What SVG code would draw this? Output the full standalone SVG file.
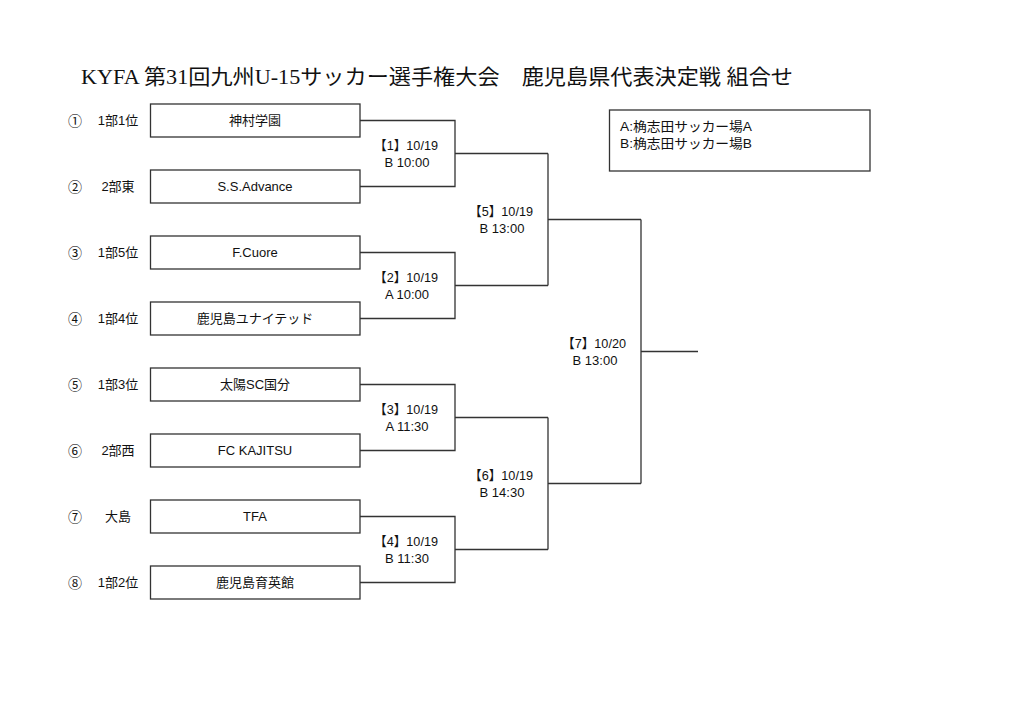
<svg xmlns="http://www.w3.org/2000/svg" width="1024" height="724" viewBox="0 0 1024 724">
<style>
.bg{fill:#fff}
.box{fill:#fff;stroke:#333;stroke-width:1.3}
.ln{fill:none;stroke:#333;stroke-width:1.3}
.t{font-family:"Liberation Sans","Noto Sans CJK JP",sans-serif;font-size:13px;fill:#111;text-anchor:middle}
.c{font-family:"Noto Sans CJK JP",sans-serif;font-size:14px;fill:#111;text-anchor:middle}
.l{font-family:"Liberation Sans","Noto Sans CJK JP",sans-serif;font-size:13px;fill:#111}
.title{font-family:"Liberation Serif","Noto Sans CJK JP",serif;font-size:21px;fill:#111}
</style>
<rect class="bg" x="0" y="0" width="1024" height="724"/>
<text class="title" x="81" y="84" textLength="712" lengthAdjust="spacingAndGlyphs">KYFA 第31回九州U-15サッカー選手権大会　鹿児島県代表決定戦 組合せ</text>

<g id="legend">
<rect class="box" x="609.5" y="110" width="260.5" height="61"/>
<text class="l" x="620" y="131" textLength="132" lengthAdjust="spacingAndGlyphs">A:桷志田サッカー場A</text>
<text class="l" x="620" y="148" textLength="132" lengthAdjust="spacingAndGlyphs">B:桷志田サッカー場B</text>
</g>

<g id="team1"><text class="c" x="75" y="126">①</text><text class="t" x="118" y="125">1部1位</text><rect class="box" x="150.5" y="104" width="209.5" height="33"/><text class="t" x="255" y="125">神村学園</text></g>
<g id="team2"><text class="c" x="75" y="192">②</text><text class="t" x="118" y="191">2部東</text><rect class="box" x="150.5" y="170" width="209.5" height="33"/><text class="t" x="255" y="191">S.S.Advance</text></g>
<g id="team3"><text class="c" x="75" y="258">③</text><text class="t" x="118" y="257">1部5位</text><rect class="box" x="150.5" y="236" width="209.5" height="33"/><text class="t" x="255" y="257">F.Cuore</text></g>
<g id="team4"><text class="c" x="75" y="324">④</text><text class="t" x="118" y="323">1部4位</text><rect class="box" x="150.5" y="302" width="209.5" height="33"/><text class="t" x="255" y="323">鹿児島ユナイテッド</text></g>
<g id="team5"><text class="c" x="75" y="390">⑤</text><text class="t" x="118" y="389">1部3位</text><rect class="box" x="150.5" y="368" width="209.5" height="33"/><text class="t" x="255" y="389">太陽SC国分</text></g>
<g id="team6"><text class="c" x="75" y="456">⑥</text><text class="t" x="118" y="455">2部西</text><rect class="box" x="150.5" y="434" width="209.5" height="33"/><text class="t" x="255" y="455">FC KAJITSU</text></g>
<g id="team7"><text class="c" x="75" y="522">⑦</text><text class="t" x="118" y="521">大島</text><rect class="box" x="150.5" y="500" width="209.5" height="33"/><text class="t" x="255" y="521">TFA</text></g>
<g id="team8"><text class="c" x="75" y="588">⑧</text><text class="t" x="118" y="587">1部2位</text><rect class="box" x="150.5" y="566" width="209.5" height="33"/><text class="t" x="255" y="587">鹿児島育英館</text></g>

<g id="connectors">
<path class="ln" d="M360 120.5H455V186.5H360M455 153.5H548"/>
<path class="ln" d="M360 252.5H455V318.5H360M455 285.5H548"/>
<path class="ln" d="M360 384.5H455V450.5H360M455 417.5H548"/>
<path class="ln" d="M360 516.5H455V582.5H360M455 549.5H548"/>
<path class="ln" d="M548 153.5V285.5M548 219.5H641"/>
<path class="ln" d="M548 417.5V549.5M548 483.5H641"/>
<path class="ln" d="M641 219.5V483.5M641 351.5H698"/>
</g>

<g id="match1"><text class="t" x="406" y="150" textLength="64" lengthAdjust="spacingAndGlyphs">【1】10/19</text><text class="t" x="407" y="167">B 10:00</text></g>
<g id="match2"><text class="t" x="406" y="282" textLength="64" lengthAdjust="spacingAndGlyphs">【2】10/19</text><text class="t" x="407" y="299">A 10:00</text></g>
<g id="match3"><text class="t" x="406" y="414" textLength="64" lengthAdjust="spacingAndGlyphs">【3】10/19</text><text class="t" x="407" y="431">A 11:30</text></g>
<g id="match4"><text class="t" x="406" y="546" textLength="64" lengthAdjust="spacingAndGlyphs">【4】10/19</text><text class="t" x="407" y="563">B 11:30</text></g>
<g id="match5"><text class="t" x="501" y="216" textLength="64" lengthAdjust="spacingAndGlyphs">【5】10/19</text><text class="t" x="502" y="233">B 13:00</text></g>
<g id="match6"><text class="t" x="501" y="480" textLength="64" lengthAdjust="spacingAndGlyphs">【6】10/19</text><text class="t" x="502" y="497">B 14:30</text></g>
<g id="match7"><text class="t" x="594" y="348" textLength="64" lengthAdjust="spacingAndGlyphs">【7】10/20</text><text class="t" x="595" y="365">B 13:00</text></g>
</svg>
